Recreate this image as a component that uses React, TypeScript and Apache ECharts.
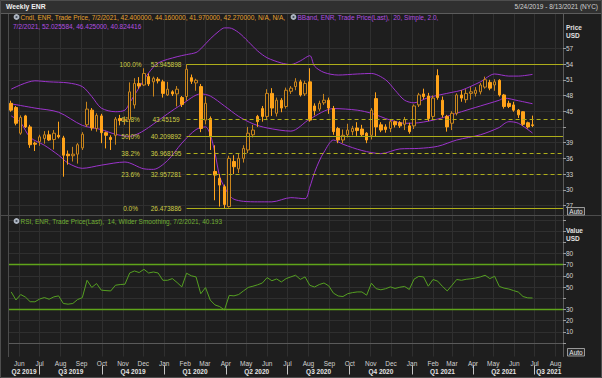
import React, { useEffect, useRef } from 'react';
import * as echarts from 'echarts';

const FONT = '"Liberation Sans", Arial, sans-serif';

// Weekly bars of ENR, one per week starting 2019-05-20 (week of 5/24/2019 ... week of 7/2/2021)
const open = [
  46.5, 45.7, 40.8, 44.1, 42.0, 38.9, 39.2, 39.8, 40.5, 39.6,
  40.4, 39.9, 36.8, 36.5, 36.8, 38.0, 42.4, 45.2, 41.7, 44.1,
  40.9, 40.0, 40.4, 43.6, 43.2, 43.4, 46.2, 50.3, 50.0, 51.6,
  50.6, 51.1, 50.6, 48.1, 48.7, 48.3, 47.6, 47.8, 51.4, 50.4,
  49.7, 43.3, 43.6, 33.5, 32.2, 30.6, 26.8, 35.4, 34.0, 36.0,
  37.6, 40.5, 44.0, 45.5, 44.0, 48.4, 44.6, 47.1, 45.9, 48.8,
  49.7, 50.6, 48.3, 50.6, 46.0, 45.4, 46.6, 47.1, 45.5, 41.7,
  39.5, 40.5, 41.1, 41.8, 41.6, 40.8, 40.4, 47.4, 42.4, 42.0,
  41.7, 43.0, 42.8, 42.5, 42.2, 42.2, 46.2, 48.3, 47.9, 44.0,
  51.8, 47.1, 44.0, 42.7, 44.6, 48.1, 47.2, 48.4, 48.4, 48.7,
  49.6, 50.5, 50.0, 50.9, 48.1, 46.5, 46.2, 45.2, 44.9, 42.8,
  42.4,
];
const high = [
  47.0, 46.0, 44.2, 44.3, 42.4, 39.2, 40.5, 41.2, 41.3, 41.4,
  43.0, 40.3, 37.5, 38.2, 38.9, 41.0, 46.8, 45.6, 44.6, 44.5,
  41.1, 40.4, 43.9, 44.3, 44.0, 50.5, 51.3, 51.5, 53.2, 52.2,
  51.6, 51.5, 51.0, 50.6, 49.0, 49.8, 47.9, 53.95, 52.0, 51.2,
  50.2, 47.8, 44.0, 38.5, 33.0, 31.0, 36.5, 36.6, 37.0, 38.5,
  42.0, 42.4, 44.3, 46.0, 49.2, 49.4, 47.6, 47.5, 49.5, 49.8,
  51.3, 51.0, 50.8, 53.2, 46.5, 47.0, 48.3, 47.6, 46.0, 42.0,
  41.5, 42.6, 42.2, 42.9, 42.4, 41.0, 45.6, 48.6, 42.9, 42.5,
  43.4, 43.2, 43.1, 43.9, 42.8, 46.3, 48.5, 49.3, 48.5, 48.0,
  53.0, 47.8, 44.3, 45.0, 48.4, 49.0, 49.2, 49.6, 49.6, 50.4,
  51.6, 51.0, 51.1, 51.1, 48.3, 47.0, 46.8, 45.4, 45.0, 43.0,
  44.16,
];
const low = [
  44.9, 42.3, 40.5, 41.8, 38.0, 37.4, 38.4, 38.8, 39.3, 37.7,
  39.8, 32.5, 34.8, 35.4, 35.0, 37.6, 42.0, 41.3, 41.1, 38.9,
  37.9, 37.6, 38.6, 42.3, 42.4, 39.5, 45.5, 49.3, 49.8, 49.8,
  47.8, 50.3, 47.6, 47.9, 47.9, 45.9, 45.8, 47.0, 50.2, 48.9,
  41.0, 42.5, 37.6, 28.0, 26.8, 26.47, 26.6, 33.0, 33.2, 35.2,
  37.0, 40.0, 42.0, 43.0, 43.3, 44.1, 44.0, 44.8, 45.5, 48.3,
  49.0, 47.8, 47.9, 43.0, 44.2, 45.0, 46.2, 44.5, 40.5, 38.9,
  38.9, 40.0, 40.4, 40.3, 40.1, 38.9, 39.6, 40.2, 41.0, 40.9,
  41.0, 41.9, 41.8, 41.4, 40.7, 41.6, 45.8, 47.3, 43.1, 43.3,
  47.2, 43.8, 41.1, 41.4, 44.2, 46.8, 46.6, 47.2, 47.8, 48.2,
  49.3, 49.0, 48.9, 47.8, 45.5, 45.6, 44.9, 43.7, 42.2, 41.7,
  41.97,
];
const close = [
  45.2, 42.7, 43.8, 42.0, 38.6, 38.7, 40.1, 40.5, 39.5, 40.8,
  40.1, 36.6, 36.5, 36.8, 38.6, 40.6, 45.4, 41.8, 44.2, 40.9,
  40.4, 39.6, 43.5, 43.2, 43.4, 48.7, 50.3, 49.8, 52.2, 50.2,
  51.3, 50.8, 48.4, 49.2, 48.3, 49.2, 46.3, 53.0, 50.7, 50.9,
  41.7, 46.5, 40.1, 32.8, 30.9, 27.2, 36.0, 34.4, 36.0, 37.9,
  40.8, 41.4, 43.0, 44.0, 48.4, 45.6, 47.1, 45.6, 49.0, 49.4,
  50.6, 48.1, 50.3, 43.3, 45.1, 46.5, 47.1, 45.6, 41.1, 39.5,
  40.4, 41.4, 41.7, 41.3, 40.5, 39.5, 45.2, 42.0, 41.4, 41.5,
  43.0, 42.4, 42.2, 43.4, 41.1, 46.0, 48.1, 47.8, 43.6, 47.5,
  47.6, 44.3, 42.0, 44.6, 48.1, 47.5, 48.4, 48.7, 49.0, 50.0,
  51.0, 49.4, 50.6, 48.1, 45.9, 45.9, 45.2, 44.3, 42.5, 42.0,
  42.27,
];

// Bollinger band (20, 2.0): [week index, value]
const bbUpper: [number, number][] = [
  [0, 49.2], [5, 50.8], [8, 50.6], [12, 50.4], [15, 49.7], [17, 47.8], [19, 45.6],
  [22, 44.9], [24, 45.2], [25, 46.6], [27, 49.5], [29, 52.3], [31, 54.2], [35, 55.4],
  [37, 55.8], [39, 56.2], [40, 56.9], [42, 58.8], [44, 60.4], [45, 60.9], [46, 60.9],
  [48, 60.0], [50, 58.3], [52, 56.5], [54, 55.2], [57, 54.2], [59, 53.9], [61, 54.6],
  [63, 55.6], [64, 53.6], [66, 52.4], [69, 51.9], [73, 52.1], [76, 52.2], [79, 51.0],
  [81, 49.0], [83, 47.1], [85, 46.6], [88, 47.6], [93, 48.6], [95, 49.0], [99, 50.6],
  [102, 52.1], [105, 51.7], [107, 51.7], [110, 52.025584],
];
const bbMiddle: [number, number][] = [
  [0, 46.4], [5, 45.6], [10, 44.8], [15, 42.3], [19, 41.5], [22, 40.6], [25, 40.2],
  [27, 40.8], [29, 41.9], [33, 44.5], [36, 46.3], [40, 48.3], [42, 47.9], [45, 46.0],
  [48, 44.0], [51, 42.6], [54, 41.8], [59, 41.2], [63, 43.5], [68, 45.5], [73, 45.2],
  [76, 44.6], [80, 43.3], [83, 42.7], [86, 42.8], [90, 43.5], [95, 44.9], [99, 46.0],
  [103, 47.1], [104, 47.5], [107, 47.0], [110, 46.425],
];
const bbLower: [number, number][] = [
  [0, 44.1], [2, 42.8], [4, 40.0], [7, 38.5], [10, 36.6], [12, 35.1], [15, 34.1],
  [19, 34.7], [24, 35.3], [28, 34.0], [30, 33.9], [33, 35.6], [36, 38.9], [39, 41.5],
  [41, 42.0], [42, 40.5], [43, 37.0], [44, 32.5], [45, 30.5], [46, 29.0], [47, 28.2],
  [49, 27.8], [52, 27.7], [55, 27.7], [59, 28.5], [62, 28.3], [63, 30.5], [64, 33.3],
  [65, 35.5], [66, 37.2], [68, 39.5], [70, 38.7], [74, 37.5], [78, 36.9], [82, 37.8],
  [86, 37.9], [90, 38.3], [94, 39.5], [99, 40.5], [103, 41.9], [104, 42.6], [105, 43.0],
  [107, 42.7], [110, 40.824416],
];

// RSI (14, Wilder) weekly values
const rsi = [
  45.6, 38.4, 43.3, 41.0, 36.9, 36.8, 39.3, 40.6, 39.1, 41.2,
  42.1, 35.3, 34.7, 35.3, 38.8, 40.5, 56.0, 49.6, 53.1, 47.2,
  46.8, 46.5, 51.6, 52.2, 52.5, 62.5, 64.3, 62.9, 65.8, 62.5,
  63.4, 62.5, 56.0, 56.0, 57.5, 54.0, 50.1, 62.3, 60.0, 59.0,
  44.0, 49.5, 38.3, 34.0, 32.5, 29.5, 42.5, 42.1, 43.3, 46.5,
  49.6, 50.7, 52.0, 53.6, 58.4, 55.6, 57.2, 54.5, 57.5, 59.0,
  60.5, 56.8, 59.0, 51.5, 50.0, 52.2, 53.6, 51.0, 44.5, 42.0,
  41.5, 44.0, 45.0, 45.6, 45.6, 42.7, 53.4, 48.5, 47.5, 48.5,
  50.1, 48.7, 49.8, 50.5, 47.8, 57.0, 59.5, 59.0, 50.7, 56.7,
  55.2, 50.5, 46.5, 51.5, 56.7, 56.0, 56.9, 57.3, 58.0, 59.0,
  60.5, 57.5, 59.6, 50.5, 49.0, 48.2, 46.8, 45.5, 41.5, 40.3,
  40.193,
];

const fibPct = ['100.0%', '61.8%', '50.0%', '38.2%', '23.6%', '0.0%'];
const fibVal = ['53.945898', '43.45159', '40.209892', '36.968195', '32.957281', '26.473886'];
const fibDashed = [false, true, false, true, true, false];
const fibStartWeek = 37;

// tick marks / grid lines, and the tick labels left visible (42 and 40 sit under the value tags)
const priceTicks = [27, 30, 33, 36, 39, 42, 45, 48, 51, 54, 57];
const priceLabelTicks = [27, 30, 33, 36, 39, 45, 48, 51, 54, 57];
const rsiGridTicks = [0, 10, 20, 30, 40, 50, 60, 70, 80, 90, 100, 110];
const rsiLabelTicks = [10, 20, 30, 50, 60, 70, 80];
const rsiBands = [70, 30];
const monthNames = ['Jan', 'Feb', 'Mar', 'Apr', 'May', 'Jun', 'Jul', 'Aug', 'Sep', 'Oct', 'Nov', 'Dec'];
const quarterNames = ['Q2 2019', 'Q3 2019', 'Q4 2019', 'Q1 2020', 'Q2 2020', 'Q3 2020', 'Q4 2020', 'Q1 2021', 'Q2 2021', 'Q3 2021'];

const lastDateText = '7/2/2021';
const dateRangeText = '5/24/2019 - 8/13/2021 (NYC)';

const DAY = 86400000;
const weekTimes = close.map((_, i) => Date.UTC(2019, 4, 20 + 7 * i));
const xMin = Date.UTC(2019, 4, 16);
const xMax = Date.UTC(2021, 7, 12);

const monthStarts: number[] = [];
{
  let y = 2019, m = 5;
  while (y < 2021 || (y === 2021 && m <= 7)) {
    monthStarts.push(Date.UTC(y, m, 1));
    m++;
    if (m === 12) { m = 0; y++; }
  }
}
const quarterStarts = [
  Date.UTC(2019, 6, 1), Date.UTC(2019, 9, 1), Date.UTC(2020, 0, 1), Date.UTC(2020, 3, 1),
  Date.UTC(2020, 6, 1), Date.UTC(2020, 9, 1), Date.UTC(2021, 0, 1), Date.UTC(2021, 3, 1),
  Date.UTC(2021, 6, 1),
];
const qBounds = [xMin, ...quarterStarts, xMax];
const quarterMids = quarterNames.map((_, k) => Math.round((qBounds[k] + qBounds[k + 1]) / 2));

const GRID = '#2f2f2f';
const AXIS = '#5a5a5a';
const TXT = '#d2d2d2';
const ORANGE_TXT = '#e6a12e';
const PURPLE = '#9c34cc';
const PURPLE_TXT = '#b24ee0';
const GREEN_TXT = '#72b034';
const FIB = '#aeae1a';
const FIB_TXT = '#cfcf46';
const FS = 6.5;

const last = close.length - 1;

function valueLabel(text: string, bg: string, fg: string, dy = 0) {
  return {
    show: true,
    position: 'end',
    distance: 0,
    formatter: text,
    backgroundColor: bg,
    color: fg,
    fontSize: FS,
    fontFamily: FONT,
    width: 33,
    lineHeight: 6.5,
    padding: [0.5, 2, 0, 2],
    offset: [0, dy],
  };
}

function bandSeries(name: string, pts: [number, number][], labelText: string, dy = 0) {
  return {
    name,
    type: 'line',
    xAxisIndex: 0,
    yAxisIndex: 0,
    data: pts.map(([i, v]) => [weekTimes[i], v]),
    showSymbol: false,
    smooth: 0.3,
    lineStyle: { color: PURPLE, width: 1 },
    z: 3,
    silent: true,
    markLine: {
      silent: true,
      symbol: ['none', 'none'],
      data: [
        {
          yAxis: pts[pts.length - 1][1],
          lineStyle: { opacity: 0 },
          label: valueLabel(labelText, '#c92fde', '#2a0634', dy),
        },
      ],
    },
  };
}

function buildOption(): any {
  const fibLines = fibVal.map((v, k) => [
    {
      coord: [weekTimes[fibStartWeek], Number(v)],
      lineStyle: { color: FIB, width: 1, type: fibDashed[k] ? [4, 3] : 'solid' },
      label: {
        show: true,
        position: 'start',
        distance: 5,
        formatter: `{p|${fibPct[k]}}{v|${v}}`,
        rich: {
          p: { width: 34, align: 'right', color: FIB_TXT, fontSize: FS, fontFamily: FONT },
          v: { width: 31, align: 'left', padding: [0, 0, 0, 3], color: FIB_TXT, fontSize: FS, fontFamily: FONT },
        },
      },
    },
    { coord: [xMax, Number(v)] },
  ]);

  const candleLegend = `Cndl, ENR, Trade Price, ${lastDateText}, ${open[last].toFixed(6)}, ${high[last].toFixed(6)}, ${low[last].toFixed(6)}, ${close[last].toFixed(6)}, N/A, N/A,`;
  const bbLegend1 = 'BBand, ENR, Trade Price(Last),  20, Simple, 2.0,';
  const bbLegend2 = `${lastDateText}, ${bbUpper[bbUpper.length - 1][1].toFixed(6)}, ${bbMiddle[bbMiddle.length - 1][1].toFixed(6)}, ${bbLower[bbLower.length - 1][1].toFixed(6)}`;
  const rsiLegend = `RSI, ENR, Trade Price(Last),  14, Wilder Smoothing, ${lastDateText}, ${rsi[last]}`;

  const txt = (text: string, x: number, y: number, fill: string, opts: any = {}) => ({
    type: 'text',
    x,
    y,
    z: 100,
    silent: true,
    style: {
      text,
      fill,
      fontSize: opts.fontSize ?? FS,
      fontWeight: opts.bold ? 'bold' : 'normal',
      fontFamily: FONT,
      align: opts.align ?? 'left',
      verticalAlign: 'middle',
    },
  });
  const icon = (cx: number, cy: number) => ({
    type: 'group',
    z: 100,
    silent: true,
    children: [
      { type: 'circle', shape: { cx, cy, r: 2.9 }, style: { fill: '#aeb6c2' }, z: 100 },
      { type: 'circle', shape: { cx, cy, r: 1.1 }, style: { fill: '#4a5260' }, z: 101 },
    ],
  });
  const autoBox = (y: number) => ({
    type: 'group',
    z: 100,
    silent: true,
    children: [
      { type: 'rect', shape: { x: 567.5, y, width: 17, height: 7.5 }, style: { fill: '#2a2a2a', stroke: '#b8b8b8', lineWidth: 0.8 }, z: 100 },
      { type: 'text', x: 576, y: y + 4, z: 101, style: { text: 'Auto', fill: '#e8e8e8', fontSize: FS, fontFamily: FONT, align: 'center', verticalAlign: 'middle' } },
    ],
  });

  const baseX = { type: 'value', min: xMin, max: xMax, scale: true };

  return {
    animation: false,
    backgroundColor: '#1e1e1e',
    textStyle: { fontFamily: FONT },
    grid: [
      { left: 8.5, right: 39, top: 14, height: 201, outerBoundsMode: 'none' },
      { left: 8.5, right: 39, top: 215.5, height: 141, outerBoundsMode: 'none' },
    ],
    xAxis: [
      {
        ...baseX, gridIndex: 0,
        axisLine: { show: false },
        axisTick: { show: false, customValues: monthStarts },
        axisLabel: { show: false },
        splitLine: { show: true, lineStyle: { color: GRID, width: 1 } },
      },
      {
        ...baseX, gridIndex: 1,
        axisLine: { show: true, lineStyle: { color: AXIS } },
        axisTick: { show: false, customValues: monthStarts },
        axisLabel: {
          show: true, customValues: monthStarts, color: TXT, fontSize: FS, margin: 3,
          formatter: (v: number) => monthNames[new Date(v).getUTCMonth()],
        },
        splitLine: { show: true, lineStyle: { color: GRID, width: 1 } },
      },
      {
        ...baseX, gridIndex: 1, position: 'bottom', offset: 9,
        axisLine: { show: false },
        axisTick: { show: true, customValues: quarterStarts, length: 9, lineStyle: { color: '#c4c4c4' } },
        axisLabel: {
          show: true, customValues: quarterMids, color: '#e4e4e4', fontSize: FS, fontWeight: 'bold', margin: 2,
          formatter: (v: number) => {
            const k = quarterMids.findIndex((m) => Math.abs(m - v) < DAY);
            return k >= 0 ? quarterNames[k] : '';
          },
        },
        splitLine: { show: false },
      },
    ],
    yAxis: [
      {
        type: 'value', gridIndex: 0, position: 'right', min: 25.19, max: 63.55, scale: true,
        axisLine: { show: true, lineStyle: { color: AXIS } },
        axisTick: { show: true, customValues: priceTicks, length: 3, lineStyle: { color: '#9a9a9a' } },
        axisLabel: { show: true, customValues: priceLabelTicks, color: TXT, fontSize: FS, margin: 3 },
        splitLine: { show: true, lineStyle: { color: GRID, width: 1 } },
      },
      {
        type: 'value', gridIndex: 1, position: 'right', min: -12, max: 113.8,
        axisLine: { show: true, lineStyle: { color: AXIS } },
        axisTick: { show: true, customValues: rsiGridTicks, length: 3, lineStyle: { color: '#9a9a9a' } },
        axisLabel: { show: true, customValues: rsiLabelTicks, color: TXT, fontSize: FS, margin: 3 },
        splitLine: { show: true, lineStyle: { color: GRID, width: 1 } },
      },
    ],
    series: [
      {
        name: 'Cndl',
        type: 'candlestick',
        xAxisIndex: 0,
        yAxisIndex: 0,
        barWidth: 3,
        z: 4,
        silent: true,
        data: weekTimes.map((t, i) => [t, open[i], close[i], low[i], high[i]]),
        itemStyle: {
          color: 'rgba(30,30,30,1)',
          color0: '#ffa31a',
          borderColor: '#c8841c',
          borderColor0: '#ffa31a',
          borderWidth: 1,
        },
        markLine: {
          silent: true,
          symbol: ['none', 'none'],
          z: 6,
          data: [
            ...fibLines,
            {
              yAxis: close[last],
              lineStyle: { opacity: 0 },
              label: valueLabel(close[last].toFixed(6), '#ffa500', '#1a1200'),
            },
          ],
        },
      },
      bandSeries('Upper', bbUpper, bbUpper[bbUpper.length - 1][1].toFixed(6), -2),
      bandSeries('Middle', bbMiddle, bbMiddle[bbMiddle.length - 1][1].toFixed(6)),
      bandSeries('Lower', bbLower, bbLower[bbLower.length - 1][1].toFixed(6)),
      {
        name: 'RSI',
        type: 'line',
        xAxisIndex: 1,
        yAxisIndex: 1,
        data: weekTimes.map((t, i) => [t, rsi[i]]),
        showSymbol: false,
        silent: true,
        lineStyle: { color: '#55a021', width: 1 },
        markLine: {
          silent: true,
          symbol: ['none', 'none'],
          data: [
            ...rsiBands.map((b) => ({ yAxis: b, lineStyle: { color: '#5fa51a', width: 1.3, type: 'solid' }, label: { show: false } })),
            {
              yAxis: rsi[last],
              lineStyle: { opacity: 0 },
              label: valueLabel(String(rsi[last]), '#78c81e', '#ffffff'),
            },
          ],
        },
      },
    ],
    graphic: [
      { type: 'rect', z: 90, silent: true, shape: { x: 0, y: 0, width: 602, height: 13 }, style: { fill: '#303030' } },
      { type: 'line', z: 91, silent: true, shape: { x1: 0, y1: 13.5, x2: 602, y2: 13.5 }, style: { stroke: '#5c5c5c', lineWidth: 1 } },
      { type: 'line', z: 91, silent: true, shape: { x1: 0, y1: 215.5, x2: 602, y2: 215.5 }, style: { stroke: '#4c4c4c', lineWidth: 1 } },
      { type: 'line', z: 91, silent: true, shape: { x1: 8.5, y1: 14, x2: 8.5, y2: 357 }, style: { stroke: '#4c4c4c', lineWidth: 1 } },
      { type: 'rect', z: 91, silent: true, shape: { x: 0.5, y: 0.5, width: 601, height: 377 }, style: { fill: 'none', stroke: '#4e4e4e', lineWidth: 1 } },
      txt('Weekly ENR', 6, 6.5, '#f0f0f0', { bold: true, fontSize: 6.8 }),
      txt(dateRangeText, 598, 6.5, '#d0d0d0', { align: 'right' }),
      icon(16.5, 17),
      txt(candleLegend, 20.5, 17, ORANGE_TXT),
      icon(293.5, 17),
      txt(bbLegend1, 297.5, 17, PURPLE_TXT),
      txt(bbLegend2, 13, 26.5, PURPLE_TXT),
      icon(16.5, 221),
      txt(rsiLegend, 20.5, 221, GREEN_TXT),
      txt('Price', 566, 27, '#e0e0e0', { bold: true }),
      txt('USD', 566, 35.5, '#e0e0e0', { bold: true }),
      txt('Value', 566, 230, '#e0e0e0', { bold: true }),
      txt('USD', 566, 238.5, '#e0e0e0', { bold: true }),
      autoBox(207.5),
      autoBox(348.5),
    ],
  };
}

export default function App() {
  const ref = useRef<HTMLDivElement>(null);
  useEffect(() => {
    if (!ref.current) return;
    const chart = echarts.init(ref.current, null, { renderer: 'svg' });
    chart.setOption(buildOption());
    return () => chart.dispose();
  }, []);
  return (
    <div
      ref={ref}
      style={{ position: 'fixed', left: 0, top: 0, width: 602, height: 378, background: '#1e1e1e' }}
    />
  );
}
